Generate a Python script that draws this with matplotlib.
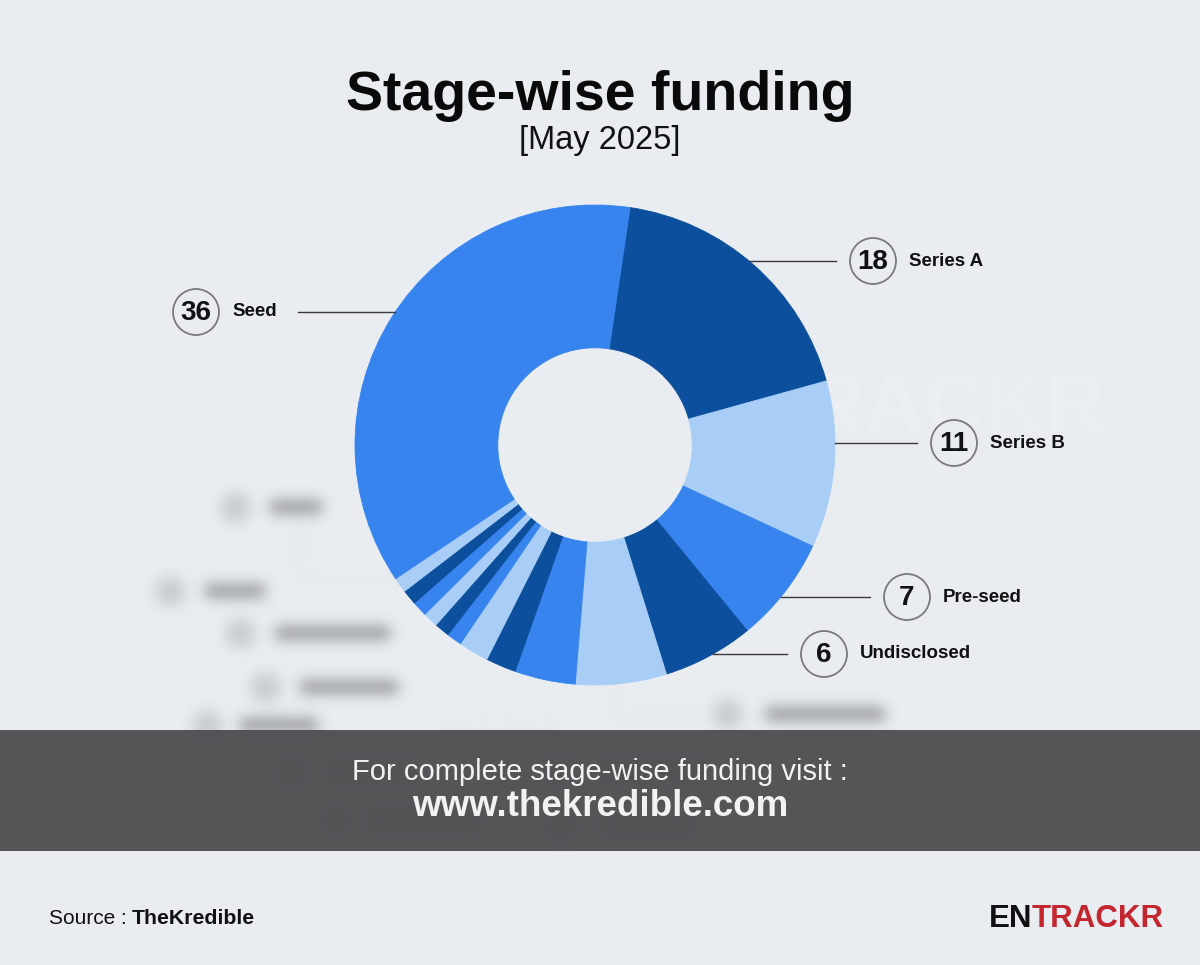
import numpy as np
import matplotlib
matplotlib.use("Agg")
import matplotlib.pyplot as plt
from matplotlib.patches import Circle, Rectangle

# ---------------- data ----------------
stages = ["Series A", "Series B", "Pre-seed", "Undisclosed", "Pre-Series A",
          "Angel", "Bridge", "Debt", "Secondary", "Pre-Series B",
          "Series C", "Series D", "Series E", "Growth", "Seed"]
counts = [18, 11, 7, 6, 6, 4, 2, 2, 1, 1, 1, 1, 1, 1, 36]
labelled = ["Series A", "Series B", "Pre-seed", "Undisclosed", "Seed"]

title = "Stage-wise funding"
subtitle = "[May 2025]"
banner_line1 = "For complete stage-wise funding visit :"
banner_line2 = "www.thekredible.com"

# ---------------- style ----------------
BG = "#e9edf1"
DARK = "#0c4f9d"
LIGHT = "#a8cef7"
MED = "#3784ef"
cycle = [DARK, LIGHT, MED]
colors = [cycle[i % 3] for i in range(len(counts))]

W, H = 1200, 965
plt.rcParams["font.family"] = ["Liberation Sans", "DejaVu Sans"]

fig = plt.figure(figsize=(W / 100, H / 100), dpi=100, facecolor=BG)
ax = fig.add_axes([0, 0, 1, 1])
ax.set_facecolor(BG)

def Y(y):  # pixel-from-top -> data y
    return H - y

# ------------- blurred background decoration -------------
yy, xx = np.mgrid[0:H, 0:W]
dark = np.zeros((H, W))

def bar(x0, x1, y, h, v=1.0):
    sl = (slice(int(y - h / 2), int(y + h / 2)), slice(int(x0), int(x1)))
    dark[sl] = np.maximum(dark[sl], v)

def dot(cx, cy, r, v=0.8):
    m = (xx - cx) ** 2 + (yy - cy) ** 2 <= r * r
    dark[m] = np.maximum(dark[m], v)

blobs = [(235, 507, 270, 322), (170, 591, 205, 265), (240, 633, 275, 390),
         (265, 687, 300, 398), (207, 725, 240, 318), (727, 714, 765, 885),
         (290, 772, 330, 420), (335, 820, 370, 480), (560, 770, 600, 700),
         (560, 825, 600, 690)]
for cx, cy, x0, x1 in blobs:
    dot(cx, cy, 15, 0.35)
    bar(x0, x1, cy, 14, 0.85)
# faint connectors
bar(299, 303, 550, 50, 0.12)
bar(300, 430, 578, 4, 0.12)
for vx in (440, 462, 484, 506, 545):
    bar(vx, vx + 3, 700, 80, 0.07)
bar(613, 617, 700, 30, 0.12)
bar(613, 700, 716, 4, 0.12)
bar(440, 560, 733, 4, 0.10)

s = 7.0
k = np.exp(-((yy - H // 2) ** 2 + (xx - W // 2) ** 2) / (2 * s * s))
k /= k.sum()
blur = np.real(np.fft.ifft2(np.fft.fft2(dark) * np.fft.fft2(np.fft.ifftshift(k))))
blur = np.clip(blur, 0, 1)
rgba = np.zeros((H, W, 4))
rgba[..., :3] = 0.30
rgba[..., 3] = blur * 0.6
ax.imshow(rgba, extent=(0, W, 0, H), origin="upper", zorder=0, interpolation="bilinear")

# faint watermark (hidden behind the donut, hole re-covered)
ax.text(1105, Y(410), "ENTRACKR", ha="right", va="center", fontsize=60,
        fontweight="bold", color="#f4f6f8", alpha=0.2, zorder=0.5)

# ---------------- donut ----------------
CX, CY, R = 595, Y(445), 240
HOLE = 0.405
ax.add_patch(Circle((CX, CY), R * HOLE + 1, facecolor=BG, edgecolor="none", zorder=1))
wedges, _ = ax.pie(counts, colors=colors, startangle=81.6, counterclock=False,
                   radius=R, center=(CX, CY),
                   wedgeprops=dict(width=R * (1 - HOLE), linewidth=0.6))
for w in wedges:
    w.set_zorder(2)
    w.set_edgecolor(w.get_facecolor())

# ---------------- labels ----------------
label_layout = {
    "Series A": (261, 873, "right"),
    "Series B": (443, 954, "right"),
    "Pre-seed": (597, 907, "right"),
    "Undisclosed": (654, 824, "right"),
    "Seed": (312, 196, "left"),
}
for name in labelled:
    val = counts[stages.index(name)]
    ypx, cx, side = label_layout[name]
    yd = Y(ypx)
    dy = yd - CY
    dx = np.sqrt(max(R * R - dy * dy, 0))
    if side == "right":
        x_start, x_end = CX + dx, cx - 37
    else:
        x_start, x_end = cx + 102, CX - dx
    ax.plot([x_start, x_end], [yd, yd], color="#3a3a3a", lw=1.0, zorder=3)
    ax.add_patch(Circle((cx, yd), 23, facecolor=BG, edgecolor="#7a7a7a", lw=1.3, zorder=4))
    ax.text(cx, yd - 1, str(val), ha="center", va="center", fontsize=20,
            fontweight="bold", color="#111111", zorder=5)
    ax.text(cx + 36, yd, name, ha="left", va="center", fontsize=13.5,
            fontweight="bold", color="#111111", zorder=5)

# ---------------- titles ----------------
ax.text(600, Y(96), title, ha="center", va="center", fontsize=40,
        fontweight="bold", color="#0a0a0a", zorder=5)
ax.text(600, Y(141), subtitle, ha="center", va="center", fontsize=23.5,
        color="#111111", zorder=5)

# ---------------- banner ----------------
ax.add_patch(Rectangle((0, Y(851)), W, 121, facecolor="#4b4d4f", alpha=0.95,
                       edgecolor="none", zorder=6))
ax.text(600, Y(772), banner_line1, ha="center", va="center", fontsize=21,
        color="#f2f2f2", zorder=7)
ax.text(600, Y(806), banner_line2, ha="center", va="center", fontsize=26.5,
        fontweight="bold", color="#f2f2f2", zorder=7)

# ---------------- footer ----------------
ax.text(127, Y(919), "Source :", ha="right", va="center", fontsize=15,
        color="#111111", zorder=5)
ax.text(132, Y(919), "TheKredible", ha="left", va="center", fontsize=15.3,
        fontweight="bold", color="#111111", zorder=5)
ax.text(1032, Y(919), "EN", ha="right", va="center", fontsize=22.5,
        fontweight="bold", color="#111111", zorder=5)
ax.text(1032, Y(919), "TRACKR", ha="left", va="center", fontsize=22.5,
        fontweight="bold", color="#c4262e", zorder=5)

ax.set_xlim(0, W)
ax.set_ylim(0, H)
ax.set_aspect("equal")
ax.axis("off")

fig.savefig("out.png", dpi=100, facecolor=BG)
